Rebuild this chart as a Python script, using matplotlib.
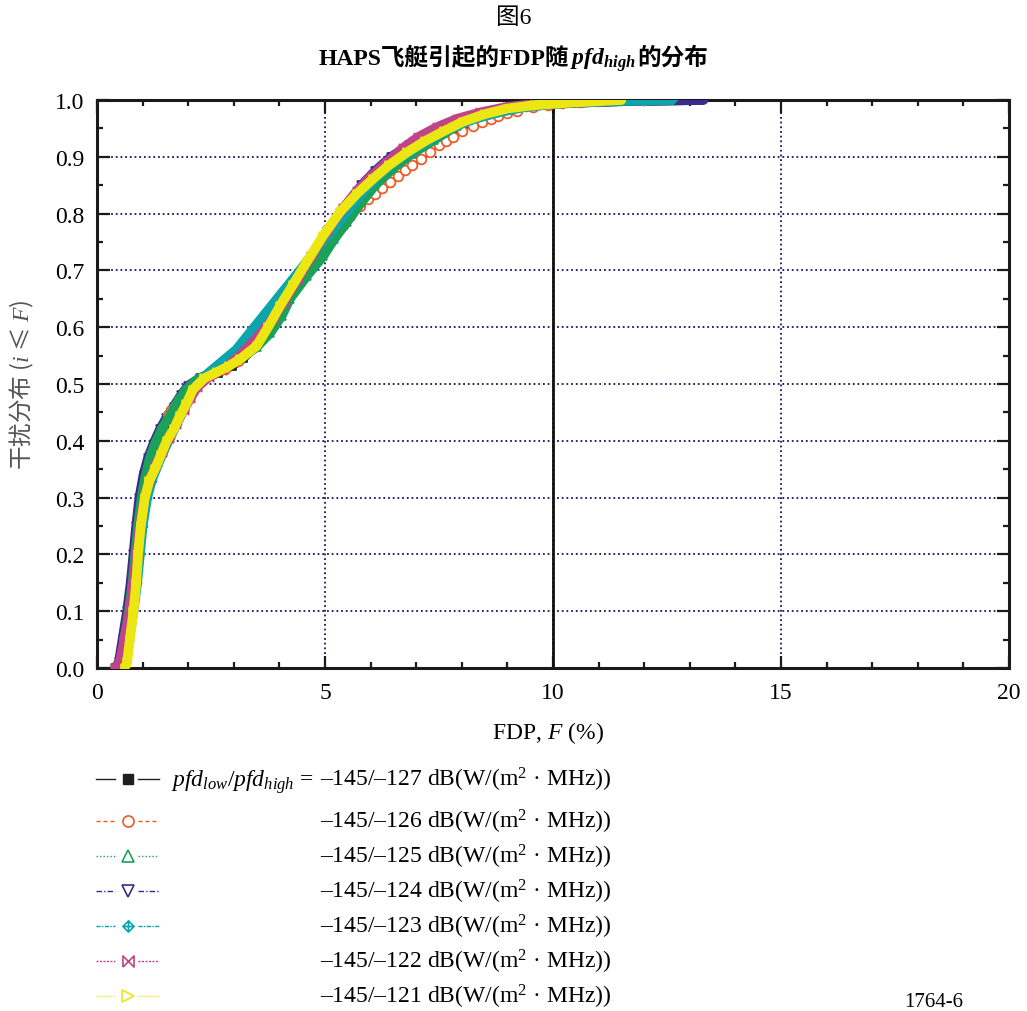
import matplotlib
matplotlib.use('Agg')
import matplotlib.pyplot as plt
from matplotlib.lines import Line2D
from matplotlib.path import Path
from matplotlib.offsetbox import TextArea, HPacker, AnchoredOffsetbox
from matplotlib.ticker import MultipleLocator, FormatStrFormatter

plt.rcParams['font.family'] = ['Liberation Serif', 'Noto Sans CJK SC']
plt.rcParams['mathtext.fontset'] = 'custom'
plt.rcParams['mathtext.rm'] = 'Liberation Serif'
plt.rcParams['mathtext.it'] = 'Liberation Serif:italic'
plt.rcParams['mathtext.bf'] = 'Liberation Serif:bold'
plt.rcParams['mathtext.bfit'] = 'Liberation Serif:italic:bold'

# ---------------- data ----------------
pfd_low = -145
pfd_high = [-127, -126, -125, -124, -123, -122, -121]

F_127 = [0.45,0.52,0.6,0.7,0.78,0.84,0.9,0.98,1.08,1.2,1.33,1.47,1.62,1.78,1.94,2.1,2.35,2.65,2.95,3.2,
         3.5,3.82,4.12,4.45,4.8,5.15,5.5,5.85,6.15,6.5,6.9,7.3,7.75,8.2,8.7,9.3,10.1,11.5,13.2]
P_127 = [0.0,0.01,0.05,0.1,0.15,0.2,0.25,0.3,0.34,0.37,0.395,0.42,0.44,0.46,0.48,0.497,0.51,0.52,0.532,0.545,
         0.57,0.605,0.64,0.68,0.72,0.765,0.81,0.85,0.875,0.9,0.92,0.932,0.944,0.96,0.975,0.987,0.994,0.998,1.0]

F_126 = [0.5,0.58,0.66,0.75,0.82,0.87,0.93,1.0,1.08,1.18,1.3,1.42,1.55,1.62,1.7,1.8,1.92,2.05,2.2,2.45,
         2.8,3.1,3.45,3.79,4.1,4.45,4.8,5.0,5.2,5.4,5.55,5.77,5.95,6.1,6.25,6.43,6.6,6.75,6.9,7.1,
         7.3,7.5,7.65,7.8,8.0,8.25,8.45,8.65,8.8,9.0,9.2,9.56,9.9,10.2,10.6,11.0,12.0]
P_126 = [0.0,0.01,0.05,0.1,0.15,0.2,0.25,0.3,0.33,0.36,0.39,0.42,0.445,0.455,0.462,0.472,0.485,0.497,0.505,0.515,
         0.527,0.54,0.565,0.602,0.64,0.68,0.72,0.74,0.76,0.78,0.795,0.813,0.825,0.835,0.845,0.856,0.867,0.876,0.885,0.897,
         0.908,0.92,0.928,0.935,0.945,0.954,0.961,0.967,0.972,0.977,0.981,0.988,0.991,0.994,0.996,0.998,1.0]

F_125 = [0.45,0.52,0.6,0.7,0.78,0.84,0.9,0.98,1.06,1.16,1.25,1.32,1.45,1.6,1.78,1.95,2.2,2.5,2.85,3.15,
         3.5,3.8,4.05,4.23,4.6,4.96,5.2,5.48,5.8,6.1,6.5,6.9,7.4,7.9,8.5,9.2,9.9,10.8,11.3]
P_125 = [0.0,0.01,0.05,0.1,0.15,0.2,0.25,0.3,0.335,0.37,0.39,0.403,0.425,0.445,0.47,0.49,0.508,0.52,0.532,0.545,
         0.565,0.59,0.62,0.65,0.69,0.725,0.755,0.785,0.82,0.85,0.88,0.905,0.93,0.955,0.975,0.988,0.995,0.998,1.0]

F_124 = [0.4,0.48,0.56,0.66,0.74,0.8,0.86,0.93,1.02,1.12,1.24,1.38,1.52,1.68,1.84,2.0,2.25,2.55,2.85,3.1,
         3.45,3.8,4.1,4.45,4.75,5.1,5.45,5.8,6.1,6.45,6.85,7.25,7.67,8.1,8.6,9.2,10.0,11.5,13.3]
P_124 = [0.0,0.01,0.05,0.1,0.15,0.2,0.25,0.3,0.34,0.37,0.395,0.42,0.44,0.46,0.48,0.497,0.51,0.52,0.532,0.545,
         0.57,0.605,0.64,0.68,0.72,0.765,0.81,0.85,0.875,0.9,0.92,0.932,0.944,0.96,0.975,0.987,0.994,0.998,1.0]

F_123 = [0.55,0.62,0.7,0.8,0.88,0.94,1.0,1.1,1.2,1.32,1.45,1.6,1.75,1.9,2.05,2.2,2.45,2.75,3.05,3.35,
         3.65,3.95,4.2,4.5,4.82,5.15,5.5,5.85,6.15,6.5,6.9,7.3,7.75,8.2,8.8,9.4,10.3,11.5,12.6]
P_123 = [0.0,0.01,0.05,0.1,0.15,0.2,0.25,0.3,0.33,0.355,0.38,0.405,0.43,0.455,0.48,0.5,0.52,0.54,0.56,0.59,
         0.62,0.65,0.675,0.705,0.738,0.77,0.805,0.84,0.865,0.89,0.91,0.93,0.95,0.965,0.978,0.988,0.995,0.998,1.0]

F_122 = [0.4,0.5,0.6,0.72,0.8,0.87,0.94,1.04,1.15,1.28,1.42,1.58,1.74,1.9,2.05,2.2,2.45,2.75,3.0,3.25,
         3.55,3.85,4.1,4.4,4.7,5.05,5.4,5.7,6.0,6.35,6.7,7.05,7.45,7.9,8.4,9.0,9.8,10.5,11.0]
P_122 = [0.0,0.01,0.05,0.1,0.15,0.2,0.25,0.3,0.33,0.355,0.38,0.405,0.43,0.455,0.475,0.495,0.512,0.525,0.54,0.56,
         0.585,0.615,0.645,0.685,0.725,0.77,0.81,0.84,0.865,0.89,0.915,0.935,0.952,0.967,0.978,0.988,0.994,0.998,1.0]

F_121 = [0.62,0.66,0.72,0.8,0.86,0.9,0.96,1.05,1.15,1.27,1.4,1.53,1.68,1.82,1.96,2.1,2.35,2.63,2.9,3.14,
         3.5,3.75,4.01,4.3,4.6,4.95,5.33,5.7,6.05,6.4,6.8,7.2,7.6,8.03,8.5,9.0,9.6,10.3,11.0,11.5]
P_121 = [0.0,0.01,0.05,0.1,0.15,0.2,0.25,0.3,0.33,0.35,0.375,0.4,0.42,0.444,0.465,0.49,0.51,0.521,0.532,0.544,
         0.567,0.6,0.637,0.675,0.715,0.76,0.803,0.835,0.861,0.885,0.908,0.928,0.945,0.962,0.975,0.985,0.991,0.995,0.998,1.0]

series_F = [F_127, F_126, F_125, F_124, F_123, F_122, F_121]
series_P = [P_127, P_126, P_125, P_124, P_123, P_122, P_121]

x_ticks = [0, 5, 10, 15, 20]
y_ticks = [0.0, 0.1, 0.2, 0.3, 0.4, 0.5, 0.6, 0.7, 0.8, 0.9, 1.0]

# ---------------- styles ----------------
colors = ['#231f20', '#f05a28', '#1ba25a', '#3a2c8c', '#0aa5ad', '#c0448a', '#ece712']
linestyles = ['-', (0, (3, 2)), (0, (1, 1.5)), (0, (4, 1.5, 1, 1.5)), (0, (3, 1, 1, 1)),
              (0, (1.5, 1)), (0, (1, 1))]
bowtie = Path([(-1, -1), (1, 1), (1, -1), (-1, 1), (-1, -1)],
              [Path.MOVETO, Path.LINETO, Path.LINETO, Path.LINETO, Path.LINETO])
diamond_plus = Path([(0, 1), (1, 0), (0, -1), (-1, 0), (0, 1), (0, -1), (-1, 0), (1, 0)],
                    [Path.MOVETO, Path.LINETO, Path.LINETO, Path.LINETO, Path.LINETO,
                     Path.LINETO, Path.MOVETO, Path.LINETO])
markers = ['s', 'o', '^', 'v', diamond_plus, bowtie, '>']
band_w = [7, 1.0, 7, 7, 7, 7, 7]
zorders = [3, 4, 5, 3.5, 6, 7, 8]

W, H = 1027, 1012
fig = plt.figure(figsize=(W / 100, H / 100), dpi=100)
ax = fig.add_axes([97 / W, 1 - 669 / H, 912 / W, 568 / H])

for i in range(7):
    F, P, c = series_F[i], series_P[i], colors[i]
    ax.plot(F, P, color=c, lw=band_w[i], ls='-' if band_w[i] > 2 else linestyles[i],
            solid_joinstyle='round', solid_capstyle='round', zorder=zorders[i])
    if i == 1:
        ax.plot(F, P, ls='none', marker='o', ms=7, mfc='white', mec=c, mew=1.3, zorder=zorders[i])
    else:
        ax.plot(F, P, ls='none', marker=markers[i], ms=6, mfc=c, mec=c, mew=1.2, zorder=zorders[i])

ax.set_xlim(0, 20)
ax.set_ylim(0, 1)
ax.set_xticks(x_ticks)
ax.set_yticks(y_ticks)
ax.xaxis.set_minor_locator(MultipleLocator(1))
ax.yaxis.set_minor_locator(MultipleLocator(0.05))
ax.yaxis.set_major_formatter(FormatStrFormatter('%.1f'))
ax.tick_params(which='both', direction='in', top=True, right=True, width=1.6, color='#1a1a1a',
               labelsize=17)
ax.tick_params(which='major', length=9, pad=9)
ax.tick_params(which='minor', length=4.5)
ax.tick_params(axis='x', which='major', pad=10)
for s in ax.spines.values():
    s.set_linewidth(2.2)
    s.set_color('#1a1a1a')
ax.grid(True, which='major', color='#1b1464', ls=(0, (1, 1.6)), lw=1.3, zorder=1)
ax.axvline(10, color='#111111', lw=2, zorder=2)

# ---------------- texts ----------------
fig.text(0.5, 1 - 18 / H, '图6', ha='center', va='center', fontsize=17,
         family=['Liberation Serif', 'Noto Sans CJK SC'])

tp = dict(fontsize=17, fontweight='bold', family=['Liberation Serif', 'Noto Sans CJK SC'])
ta1 = TextArea('HAPS飞艇引起的FDP随', textprops=tp)
ta2 = TextArea(r'$\mathbfit{pfd}_{\mathbfit{high}}$', textprops=dict(fontsize=17))
ta3 = TextArea('的分布', textprops=tp)
box = HPacker(children=[ta1, ta2, ta3], align='baseline', pad=0, sep=1)
anch = AnchoredOffsetbox(loc='center', child=box, pad=0, borderpad=0, frameon=False,
                         bbox_to_anchor=(0.5, 1 - 60 / H), bbox_transform=fig.transFigure)
fig.add_artist(anch)

fig.text(22 / W, 1 - 385 / H, r'干扰分布 ($i$ ≤ $F$)', rotation=90, ha='center', va='center',
         fontsize=17, family='Noto Sans CJK SC', color='#555555')
fig.text(548 / W, 1 - 733 / H, r'FDP, $F$ (%)', ha='center', va='center', fontsize=17)

row_y = [780, 822, 857, 892, 927, 962, 997]
for i in range(7):
    yf = 1 - row_y[i] / H
    for xa, xb in [(96, 115), (138, 159)]:
        fig.add_artist(Line2D([xa / W, xb / W], [yf, yf], transform=fig.transFigure,
                              color=colors[i], lw=1.0, ls=linestyles[i]))
    if i == 1:
        fig.add_artist(Line2D([128 / W], [yf], transform=fig.transFigure, ls='none', marker='o',
                              ms=8, mfc='white', mec=colors[i], mew=1.2))
    elif i == 0:
        fig.add_artist(Line2D([128 / W], [yf], transform=fig.transFigure, ls='none', marker='s',
                              ms=7, mfc=colors[i], mec=colors[i]))
    else:
        fig.add_artist(Line2D([128 / W], [yf], transform=fig.transFigure, ls='none',
                              marker=markers[i], ms=8, mfc='none', mec=colors[i], mew=1.2))
    yb = 1 - (row_y[i] + 7) / H
    fig.text(320 / W, yb, f'–{abs(pfd_low)}/–{abs(pfd_high[i])} dB(W/(m$^{{2}}$ · MHz))',
             ha='left', va='baseline', fontsize=17)
fig.text(314 / W, 1 - (row_y[0] + 7) / H, r'$pfd_{low}/pfd_{high}$ =', ha='right',
         va='baseline', fontsize=17)

fig.text(934 / W, 1 - 1003 / H, '1764-6', ha='center', va='center', fontsize=15)

fig.savefig('out.png', dpi=100)
